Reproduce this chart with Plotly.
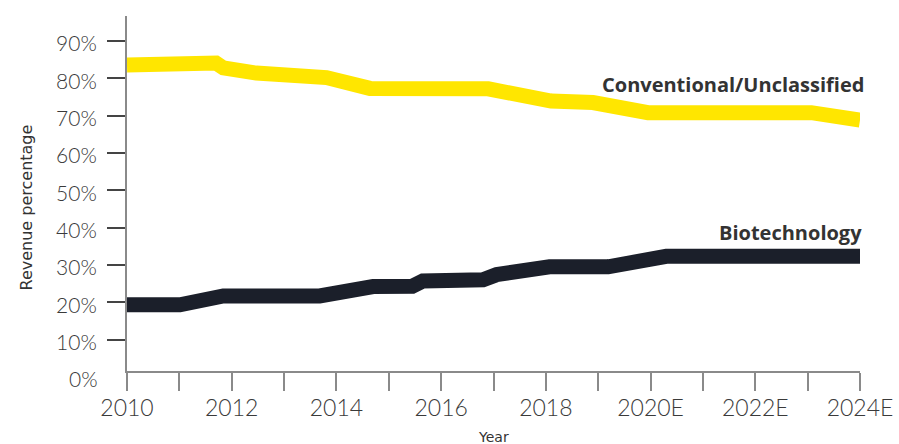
import plotly.graph_objects as go

# Revenue share by segment (percent), read at breakpoints of each series
years_conv = [2010.0, 2010.79, 2011.58, 2011.70, 2011.84, 2012.47, 2013.81,
              2014.64, 2016.90, 2018.10, 2018.90, 2019.95, 2023.07, 2024.0]
share_conv = [83.6, 83.6, 84.2, 84.1, 82.8, 81.4, 80.2,
              77.3, 77.2, 73.9, 73.5, 70.8, 70.8, 68.8]

years_bio = [2010.0, 2011.01, 2011.84, 2013.68, 2014.70, 2015.27, 2015.45,
             2015.65, 2016.80, 2017.06, 2018.07, 2019.19, 2020.30, 2024.0]
share_bio = [19.3, 19.3, 21.7, 21.7, 24.2, 23.8, 24.3,
             25.7, 26.0, 27.4, 29.5, 29.5, 32.3, 32.3]

tick_years = list(range(2010, 2025))
tick_year_labels = ["2010", "", "2012", "", "2014", "", "2016", "", "2018", "",
                    "2020E", "", "2022E", "", "2024E"]
pct_ticks = [10, 20, 30, 40, 50, 60, 70, 80, 90]
pct_labels = ["10%", "20%", "30%", "40%", "50%", "60%", "70%", "80%", "90%"]

Y_MIN, Y_MAX = 1.58, 96.7

YELLOW = "#FFE600"
DARK = "#1B1F2A"
LABEL_GREY = "#3a3a3a"
AXIS_GREY = "#8a8a8a"
TEXT_DARK = "#333333"

fig = go.Figure()
fig.add_trace(go.Scatter(x=years_conv, y=share_conv, mode="lines",
                         line=dict(color=YELLOW, width=15),
                         name="Conventional/Unclassified"))
fig.add_trace(go.Scatter(x=years_bio, y=share_bio, mode="lines",
                         line=dict(color=DARK, width=15),
                         name="Biotechnology"))

fig.update_layout(
    width=899, height=444,
    margin=dict(l=127, r=39, t=16, b=73, autoexpand=False),
    plot_bgcolor="white", paper_bgcolor="white",
    showlegend=False,
)

fig.update_xaxes(
    range=[2010, 2024], automargin=False,
    tickmode="array", tickvals=tick_years, ticktext=tick_year_labels,
    ticks="outside", ticklen=18, tickwidth=2, tickcolor=AXIS_GREY,
    ticklabelstandoff=-3,
    showline=True, linecolor=AXIS_GREY, linewidth=2,
    showgrid=False, zeroline=False,
    tickfont=dict(family="Lato", size=23, color=LABEL_GREY, weight=300),
)
fig.update_yaxes(
    range=[Y_MIN, Y_MAX], automargin=False,
    tickmode="array", tickvals=pct_ticks, ticktext=pct_labels,
    ticks="outside", ticklen=18, tickwidth=1.5, tickcolor="#444444",
    ticklabelstandoff=6, ticklabelshift=3,
    showline=True, linecolor=AXIS_GREY, linewidth=2,
    showgrid=False, zeroline=False,
    tickfont=dict(family="Lato", size=21, color=LABEL_GREY, weight=300),
)

# paper-y position of the 0% level, which lies just below the x-axis line
zero_paper_y = (0 - Y_MIN) / (Y_MAX - Y_MIN)

annotations = [
    dict(text="0%", xref="paper", x=0, xanchor="right", xshift=-27,
         yref="paper", y=zero_paper_y, yanchor="middle", yshift=-2,
         showarrow=False,
         font=dict(family="Lato", size=21, color=LABEL_GREY, weight=300)),
    dict(text="Revenue percentage", textangle=-90,
         xref="paper", x=-0.1378, xanchor="center",
         yref="paper", y=0.4606, yanchor="middle", showarrow=False,
         font=dict(family="DejaVu Sans", size=16, color=TEXT_DARK)),
    dict(text="Year", xref="paper", x=0.5, xanchor="center",
         yref="paper", y=-0.185, yanchor="middle", showarrow=False,
         font=dict(family="DejaVu Sans", size=14, color=TEXT_DARK)),
    dict(text="<b>Conventional/Unclassified</b>", xref="x", x=2024,
         xanchor="right", xshift=6, yref="y", y=78.4, yanchor="middle",
         showarrow=False,
         font=dict(family="Open Sans", size=20, color=TEXT_DARK)),
    dict(text="<b>Biotechnology</b>", xref="x", x=2024,
         xanchor="right", xshift=4, yref="y", y=38.8, yanchor="middle",
         showarrow=False,
         font=dict(family="Open Sans", size=20, color=TEXT_DARK)),
]
fig.update_layout(annotations=annotations)

fig.write_html("out.html")
